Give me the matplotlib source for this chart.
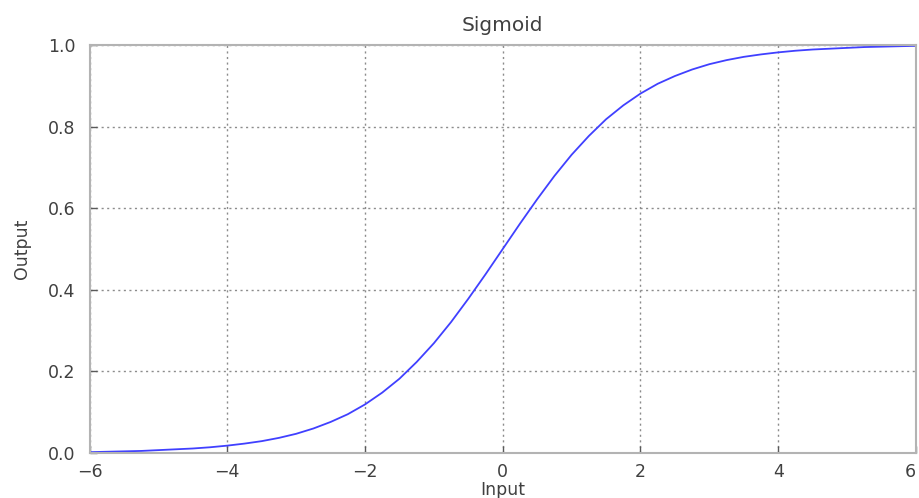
import matplotlib
matplotlib.use("Agg")
import matplotlib.pyplot as plt

# points (input, output)
inputs = [-6.0, -5.75, -5.5, -5.25, -5.0, -4.75, -4.5, -4.25, -4.0, -3.75, -3.5, -3.25,
          -3.0, -2.75, -2.5, -2.25, -2.0, -1.75, -1.5, -1.25, -1.0, -0.75, -0.5, -0.25,
          0.0, 0.25, 0.5, 0.75, 1.0, 1.25, 1.5, 1.75, 2.0, 2.25, 2.5, 2.75,
          3.0, 3.25, 3.5, 3.75, 4.0, 4.25, 4.5, 4.75, 5.0, 5.25, 5.5, 5.75, 6.0]
outputs = [0.002, 0.003, 0.004, 0.005, 0.007, 0.009, 0.011, 0.014, 0.018, 0.023, 0.029, 0.037,
           0.047, 0.060, 0.076, 0.095, 0.119, 0.148, 0.182, 0.223, 0.269, 0.321, 0.378, 0.438,
           0.500, 0.562, 0.622, 0.679, 0.731, 0.777, 0.818, 0.852, 0.881, 0.905, 0.924, 0.940,
           0.953, 0.963, 0.971, 0.977, 0.982, 0.986, 0.989, 0.991, 0.993, 0.995, 0.996, 0.997, 0.998]

x_ticks = [-6, -4, -2, 0, 2, 4, 6]
y_ticks = [0.0, 0.2, 0.4, 0.6, 0.8, 1.0]

text_color = '0.25'

fig = plt.figure(figsize=(9.19, 4.98), dpi=100)
ax = fig.add_axes([0.0974, 0.0904, 0.8993, 0.8192])

ax.plot(inputs, outputs, color='#4040ff', linewidth=1.3)

ax.set_xlim(-6, 6)
ax.set_ylim(0, 1)
ax.set_xticks(x_ticks)
ax.set_yticks(y_ticks)
ax.set_yticklabels([f"{v:.1f}" for v in y_ticks])

ax.grid(True, linestyle=(0, (1.5, 2.5)), color='0.55', linewidth=1.0)
for side in ax.spines.values():
    side.set_color('0.7')
    side.set_linewidth(1.5)

ax.tick_params(direction='in', length=5, width=1, color='0.35',
               labelsize=12.5, labelcolor=text_color, top=False, right=False)
ax.tick_params(axis='x', pad=7)
ax.tick_params(axis='y', pad=10)

# keep the last x label inside the figure edge
ax.get_xticklabels()[-1].set_horizontalalignment('right')

ax.set_title("Sigmoid", fontsize=14.5, color=text_color, pad=10)
ax.set_xlabel("Input", fontsize=12.5, color=text_color, labelpad=0)
ax.set_ylabel("Output", fontsize=12.5, color=text_color, labelpad=12)

fig.savefig('out.png', dpi=100)
